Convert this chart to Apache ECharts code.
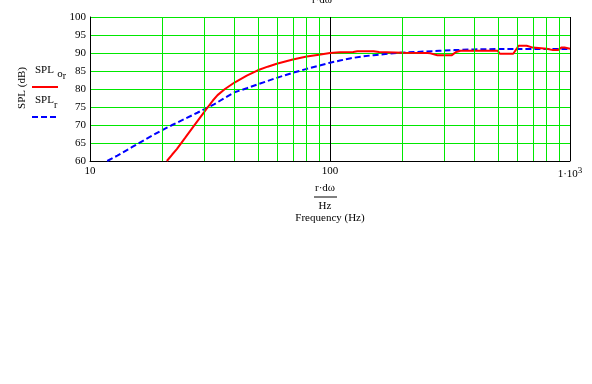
<!DOCTYPE html>
<html>
<head>
<meta charset="utf-8">
<script src="https://cdn.jsdelivr.net/npm/echarts@6/dist/echarts.min.js"></script>
<style>html,body{margin:0;padding:0;background:#fff;}#c{width:592px;height:384px;}</style>
</head>
<body>
<div id="c"></div>
<script>
// SPL_o_r (red, solid)
var freqO = [20.9, 22, 23, 24.9, 27, 30, 31, 32.5, 34, 36.5, 40, 45, 50, 55, 60, 70, 80, 90, 100, 110, 125, 130, 152, 160, 200, 255, 262, 280, 322, 335, 350, 400, 500, 510, 580, 600, 610, 660, 670, 700, 710, 800, 850, 890, 920, 950, 960, 1000];
var splO  = [60, 61.8, 63.3, 66.4, 69.6, 73.7, 75.0, 76.8, 78.3, 80.0, 81.8, 83.7, 85.2, 86.2, 87.0, 88.2, 89.0, 89.5, 90.0, 90.2, 90.3, 90.5, 90.5, 90.3, 90.1, 90.0, 89.9, 89.4, 89.4, 90.3, 90.6, 90.6, 90.6, 89.8, 89.8, 91.2, 92.0, 92.0, 91.5, 91.5, 91.2, 91.2, 90.8, 90.8, 91.5, 91.5, 91.2, 91.2];
// SPL_r (blue, dashed)
var freqR = [11.8, 13, 15, 17, 20, 22, 25, 28, 30, 33, 36, 40, 45, 50, 60, 70, 80, 90, 100, 110, 121, 135, 152, 170, 190, 230, 285, 330, 400, 500, 700, 1000];
var splR  = [60, 61.5, 63.9, 66.0, 68.6, 70.0, 71.8, 73.4, 74.4, 75.8, 77.3, 79.1, 80.2, 81.3, 83.1, 84.5, 85.6, 86.5, 87.3, 87.9, 88.5, 89.0, 89.4, 89.7, 90.0, 90.3, 90.6, 90.8, 91.0, 91.1, 91.1, 91.1];
// minor vertical grid lines
var minorX = [20, 30, 40, 50, 60, 70, 80, 90, 200, 300, 400, 500, 600, 700, 800, 900];

function pairs(xs, ys) { return xs.map(function (x, i) { return [x, ys[i]]; }); }

var FONT = 'Liberation Serif';
var GREEN = '#00e800';
var chart = echarts.init(document.getElementById('c'), null, { renderer: 'canvas' });
chart.setOption({
  animation: false,
  backgroundColor: '#fff',
  grid: { left: 90, right: 22, top: 17, bottom: 223 },
  xAxis: {
    type: 'log', min: 10, max: 1000, logBase: 10,
    axisLine: { show: true, onZero: false, lineStyle: { color: '#000', width: 1 } },
    axisTick: { show: false },
    splitLine: { show: true, lineStyle: { color: '#000', width: 1 } },
    axisLabel: {
      fontFamily: FONT, fontSize: 11, color: '#000', margin: 5,
      formatter: function (v) { return v >= 999 ? '{a|1·10}{s|3}' : String(Math.round(v)); },
      rich: {
        a: { fontFamily: FONT, fontSize: 11, color: '#000' },
        s: { fontFamily: FONT, fontSize: 9, color: '#000', verticalAlign: 'bottom', padding: [0, 0, 8, 0] }
      }
    }
  },
  yAxis: {
    type: 'value', min: 60, max: 100, interval: 5,
    axisLine: { show: true, lineStyle: { color: '#000', width: 1 } },
    axisTick: { show: false },
    splitLine: { show: true, lineStyle: { color: GREEN, width: 1 } },
    axisLabel: { fontFamily: FONT, fontSize: 11, color: '#000', margin: 4 }
  },
  series: [
    {
      type: 'line', data: [], z: 1, silent: true,
      markLine: {
        silent: true, symbol: ['none', 'none'], label: { show: false },
        lineStyle: { color: GREEN, type: 'solid', width: 1 },
        data: minorX.map(function (v) { return { xAxis: v }; })
      }
    },
    {
      name: 'SPL_r', type: 'line', data: pairs(freqR, splR), showSymbol: false, z: 3,
      lineStyle: { color: '#0000ff', width: 2, type: [6, 3] }
    },
    {
      name: 'SPL_or', type: 'line', data: pairs(freqO, splO), showSymbol: false, z: 4,
      lineStyle: { color: '#ff0000', width: 2 }
    }
  ],
  graphic: [
    { type: 'text', x: 322, y: 0, style: { text: 'r·dω', font: '11px ' + FONT, fill: '#000', align: 'center', verticalAlign: 'middle' } },
    { type: 'text', x: 22, y: 88, rotation: Math.PI / 2, style: { text: 'SPL (dB)', font: '11px ' + FONT, fill: '#000', align: 'center', verticalAlign: 'middle' } },
    { type: 'text', x: 35, y: 59, style: {
        text: '{a|SPL} {s|o}{t|r}',
        rich: {
          a: { font: '11px ' + FONT, fill: '#000' },
          s: { font: '11px ' + FONT, fill: '#000', padding: [8, 0, 0, 0] },
          t: { font: '10px ' + FONT, fill: '#000', padding: [12, 0, 0, 0] }
        } } },
    { type: 'line', shape: { x1: 32, y1: 87, x2: 58, y2: 87 }, style: { stroke: '#ff0000', lineWidth: 2 } },
    { type: 'text', x: 35, y: 90, style: {
        text: '{a|SPL}{t|r}',
        rich: {
          a: { font: '11px ' + FONT, fill: '#000' },
          t: { font: '10px ' + FONT, fill: '#000', padding: [10, 0, 0, 0] }
        } } },
    { type: 'line', shape: { x1: 32, y1: 117, x2: 58, y2: 117 }, style: { stroke: '#0000ff', lineWidth: 2, lineDash: [6, 3] } },
    { type: 'text', x: 325, y: 188, style: { text: 'r·dω', font: '11px ' + FONT, fill: '#000', align: 'center', verticalAlign: 'middle' } },
    { type: 'line', shape: { x1: 314, y1: 197, x2: 337, y2: 197 }, style: { stroke: '#000', lineWidth: 1 } },
    { type: 'text', x: 325, y: 206, style: { text: 'Hz', font: '11px ' + FONT, fill: '#000', align: 'center', verticalAlign: 'middle' } },
    { type: 'text', x: 330, y: 218, style: { text: 'Frequency (Hz)', font: '11px ' + FONT, fill: '#000', align: 'center', verticalAlign: 'middle' } }
  ]
});
</script>
</body>
</html>
